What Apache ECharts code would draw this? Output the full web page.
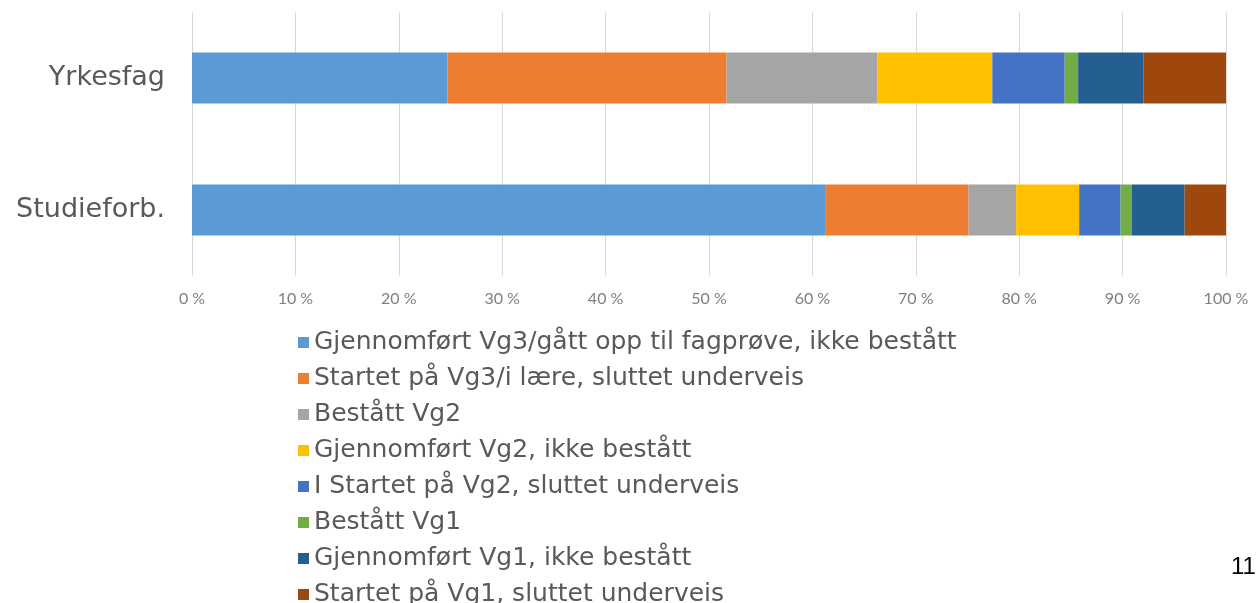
<!DOCTYPE html>
<html>
<head>
<meta charset="utf-8">
<script src="https://cdn.jsdelivr.net/npm/echarts@6/dist/echarts.min.js"></script>
<style>
html,body{margin:0;padding:0;background:#fff;}
#chart{width:1258px;height:603px;}
</style>
</head>
<body>
<div id="chart"></div>
<script>
const categories = ['Yrkesfag', 'Studieforb.'];
const seriesNames = [
  'Gjennomført Vg3/gått opp til fagprøve, ikke bestått',
  'Startet på Vg3/i lære, sluttet underveis',
  'Bestått Vg2',
  'Gjennomført Vg2, ikke bestått',
  'I Startet på Vg2, sluttet underveis',
  'Bestått Vg1',
  'Gjennomført Vg1, ikke bestått',
  'Startet på Vg1, sluttet underveis'
];
// values per series: [Yrkesfag, Studieforb.]
const gjennomfortVg3 = [24.7, 61.3];
const startetVg3 = [27.0, 13.8];
const bestattVg2 = [14.6, 4.6];
const gjennomfortVg2 = [11.1, 6.1];
const startetVg2 = [7.0, 4.0];
const bestattVg1 = [1.3, 1.1];
const gjennomfortVg1 = [6.3, 5.1];
const startetVg1 = [8.0, 4.0];
const seriesValues = [gjennomfortVg3, startetVg3, bestattVg2, gjennomfortVg2, startetVg2, bestattVg1, gjennomfortVg1, startetVg1];
const colors = ['#5B9BD5', '#ED7D31', '#A5A5A5', '#FFC000', '#4472C4', '#70AD47', '#255E91', '#9E480E'];
const pageNumber = '11';

const chart = echarts.init(document.getElementById('chart'), null, {renderer: 'canvas'});
chart.setOption({
  animation: false,
  color: colors,
  grid: {left: 192, right: 32, top: 12, height: 264, containLabel: false},
  xAxis: {
    type: 'value', min: 0, max: 100, interval: 10,
    axisLine: {show: false}, axisTick: {show: false},
    splitLine: {show: true, lineStyle: {color: '#d9d9d9', width: 1}},
    axisLabel: {formatter: '{value} %', color: '#7f7f7f', fontSize: 16, fontFamily: 'Lato', margin: 15}
  },
  yAxis: {
    type: 'category', data: categories, inverse: true,
    axisLine: {show: false}, axisTick: {show: false},
    axisLabel: {color: '#595959', fontSize: 27, fontFamily: 'DejaVu Sans', margin: 27}
  },
  legend: {
    orient: 'vertical', left: 298, top: 330, height: 300, padding: 0,
    itemWidth: 11, itemHeight: 11, itemGap: 11, icon: 'rect',
    textStyle: {color: '#595959', fontSize: 25, fontFamily: 'DejaVu Sans', lineHeight: 24},
    selectedMode: false,
    data: seriesNames
  },
  graphic: [{
    type: 'text', left: 1231, top: 555,
    style: {text: pageNumber, fontSize: 24, fontFamily: 'Liberation Sans Narrow, Liberation Sans', fill: '#000'}
  }],
  series: seriesNames.map((name, i) => ({
    name: name, type: 'bar', stack: 'total', barWidth: 51,
    data: seriesValues[i],
    emphasis: {disabled: true}
  }))
});
</script>
</body>
</html>
